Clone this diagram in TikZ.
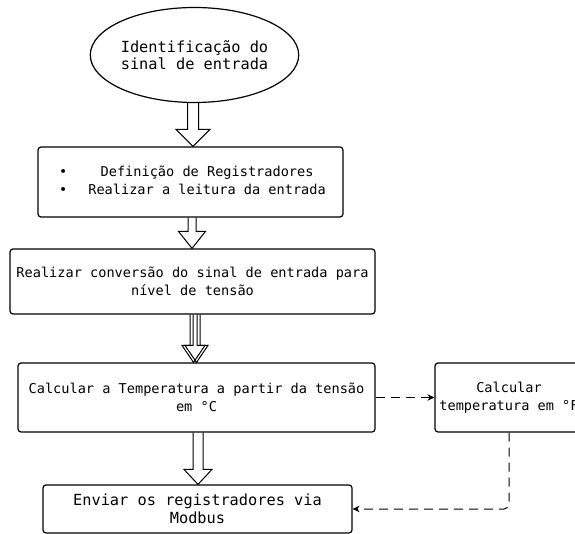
\documentclass[tikz,border=0pt]{standalone}
\usepackage{fontspec}
\newfontfamily\monofnt{DejaVu Sans Mono}
\usetikzlibrary{shapes.geometric,arrows.meta,calc}
\tikzset{
  boxnode/.style={draw, line width=1.2pt, rounded corners=3pt, inner sep=0pt, align=center,
    font=\monofnt\fontsize{13.6}{17.5}\selectfont},
  bignode/.style={font=\monofnt\fontsize{15.3}{17.5}\selectfont},
  ovalnode/.style={draw, ellipse, line width=1.2pt, inner sep=0pt, align=center,
    minimum width=175pt, minimum height=95pt, font=\monofnt\fontsize{15.3}{16.5}\selectfont},
  hollowarrow/.style={draw, line width=1pt, line join=miter},
  dashedconn/.style={draw, line width=1pt, dash pattern=on 9pt off 6pt,
    -{Stealth[length=7pt,width=6.5pt]}},
}
% #1 start, #2 end, #3 half shaft width, #4 half head width, #5 head length
\newcommand{\harrow}[5]{%
  \draw[hollowarrow] let \p1=(#1), \p2=(#2) in
   (\x1-#3pt,\y1) -- (\x1-#3pt,\y2+#5pt) -- (\x1-#4pt,\y2+#5pt) -- (\x1,\y2)
   -- (\x1+#4pt,\y2+#5pt) -- (\x1+#3pt,\y2+#5pt) -- (\x1+#3pt,\y1);}
\begin{document}
\begin{tikzpicture}[x=1pt,y=-1pt]
\clip (0,0) rectangle (575,534);
\fill[white] (0,0) rectangle (575,534);

\node[ovalnode] (e) at (194.5,55) {Identificação do\\sinal de entrada};

\node[boxnode, minimum width=305pt, minimum height=70pt] (b1) at (190.5,182)
  {\begin{tabular}{@{\hspace{4pt}}c@{\hspace{21pt}}c@{}}
   •&Definição de Registradores\\
   •&Realizar a leitura da entrada
   \end{tabular}};

\node[boxnode, minimum width=365pt, minimum height=65pt] (b2) at (192.5,281.5)
  {Realizar conversão do sinal de entrada para\\nível de tensão};

\node[boxnode, minimum width=357pt, minimum height=69pt] (b3) at (196.5,397.5)
  {Calcular a Temperatura a partir da tensão\\em °C};

\node[boxnode, minimum width=148pt, minimum height=69pt] (b4) at (509,397.5)
  {Calcular\\temperatura em °F};

\node[boxnode, bignode, minimum width=309pt, minimum height=48pt] (b5) at (197.5,509)
  {Enviar os registradores via\\Modbus};

% hollow block arrows
\harrow{[xshift=-1.5pt]e.south}{b1.north}{5.5}{17}{17}
\harrow{[xshift=1.5pt]b1.south}{b2.north}{4}{13.5}{17}
\harrow{[xshift=1pt]b2.south}{b3.north}{3.5}{11.5}{17}
\harrow{[xshift=4pt]b2.south}{b3.north}{3.5}{11.5}{17}
\harrow{[xshift=1.5pt]b3.south}{b5.north}{5}{14}{15}

% dashed connectors
\draw[dashedconn] (b3.east) -- (b4.west);
\draw[dashedconn, rounded corners=5pt] (b4.south) |- (b5.east);
\end{tikzpicture}
\end{document}
